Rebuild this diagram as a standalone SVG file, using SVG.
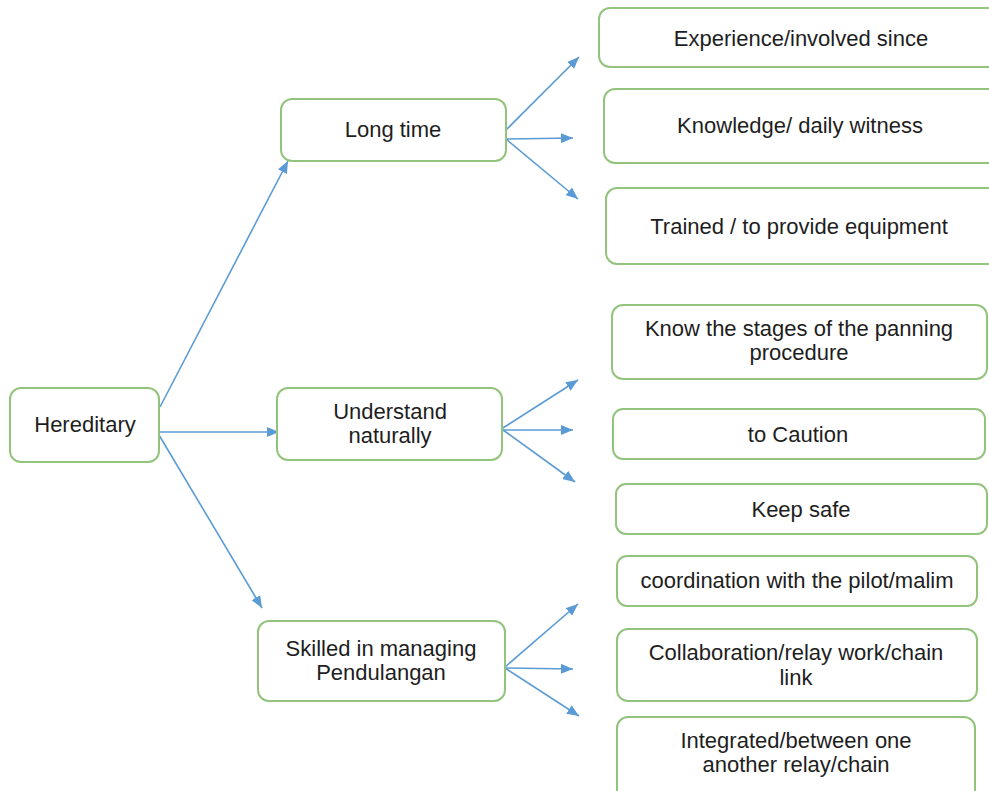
<svg xmlns="http://www.w3.org/2000/svg" width="989" height="791" viewBox="0 0 989 791">
  <style>
    .box { fill: #ffffff; stroke: #93c47d; stroke-width: 2; }
    .lbl { font-family: "Liberation Sans", Arial, sans-serif; font-size: 22px; fill: #1e1e1e; text-anchor: middle; }
    .conn { stroke: #5b9bd5; stroke-width: 1.6; fill: none; marker-end: url(#arrow); }
  </style>
  <defs>
    <marker id="arrow" viewBox="0 0 12 10" refX="12" refY="5" markerWidth="12" markerHeight="10" markerUnits="userSpaceOnUse" orient="auto">
      <path d="M0,0 L12,5 L0,10 z" fill="#5b9bd5"/>
    </marker>
  </defs>
  <rect width="989" height="791" fill="#ffffff"/>

  <g id="connectors">
    <line class="conn" x1="160" y1="407" x2="288" y2="161"/>
    <line class="conn" x1="159" y1="432" x2="279" y2="432"/>
    <line class="conn" x1="159" y1="435" x2="262" y2="608"/>

    <line class="conn" x1="506" y1="130" x2="579" y2="57"/>
    <line class="conn" x1="506" y1="139" x2="573" y2="138"/>
    <line class="conn" x1="506" y1="139" x2="578" y2="199"/>

    <line class="conn" x1="503" y1="428" x2="578" y2="380"/>
    <line class="conn" x1="503" y1="430" x2="573" y2="430"/>
    <line class="conn" x1="503" y1="430" x2="575" y2="482"/>

    <line class="conn" x1="505" y1="667" x2="578" y2="604"/>
    <line class="conn" x1="505" y1="668" x2="573" y2="669"/>
    <line class="conn" x1="505" y1="668" x2="579" y2="716"/>
  </g>

  <g id="hereditary">
    <rect class="box" x="10" y="388" width="149" height="74" rx="11"/>
    <text class="lbl" x="85" y="432">Hereditary</text>
  </g>

  <g id="long-time">
    <rect class="box" x="281" y="99" width="225" height="62" rx="11"/>
    <text class="lbl" x="393" y="137">Long time</text>
  </g>

  <g id="understand-naturally">
    <rect class="box" x="277" y="388" width="225" height="72" rx="11"/>
    <text class="lbl" x="390" y="419">Understand</text>
    <text class="lbl" x="390" y="443">naturally</text>
  </g>

  <g id="skilled">
    <rect class="box" x="258" y="621" width="247" height="80" rx="11"/>
    <text class="lbl" x="381" y="656">Skilled in managing</text>
    <text class="lbl" x="381" y="680">Pendulangan</text>
  </g>

  <g id="experience">
    <rect class="box" x="599" y="8" width="410" height="59" rx="11"/>
    <text class="lbl" x="801" y="46">Experience/involved since</text>
  </g>

  <g id="knowledge">
    <rect class="box" x="604" y="89" width="405" height="74" rx="11"/>
    <text class="lbl" x="800" y="133">Knowledge/ daily witness</text>
  </g>

  <g id="trained">
    <rect class="box" x="606" y="188" width="403" height="76" rx="11"/>
    <text class="lbl" x="799" y="234">Trained / to provide equipment</text>
  </g>

  <g id="know-stages">
    <rect class="box" x="612" y="305" width="375" height="74" rx="11"/>
    <text class="lbl" x="799" y="336">Know the stages of the panning</text>
    <text class="lbl" x="799" y="360">procedure</text>
  </g>

  <g id="caution">
    <rect class="box" x="613" y="409" width="372" height="50" rx="10"/>
    <text class="lbl" x="798" y="442">to Caution</text>
  </g>

  <g id="keep-safe">
    <rect class="box" x="616" y="484" width="371" height="50" rx="10"/>
    <text class="lbl" x="801" y="517">Keep safe</text>
  </g>

  <g id="coordination">
    <rect class="box" x="617" y="556" width="360" height="50" rx="10"/>
    <text class="lbl" x="797" y="588">coordination with the pilot/malim</text>
  </g>

  <g id="collaboration">
    <rect class="box" x="617" y="629" width="360" height="72" rx="11"/>
    <text class="lbl" x="796" y="660">Collaboration/relay work/chain</text>
    <text class="lbl" x="796" y="685">link</text>
  </g>

  <g id="integrated">
    <rect class="box" x="617" y="717" width="358" height="90" rx="11"/>
    <text class="lbl" x="796" y="748">Integrated/between one</text>
    <text class="lbl" x="796" y="772">another relay/chain</text>
  </g>
</svg>
